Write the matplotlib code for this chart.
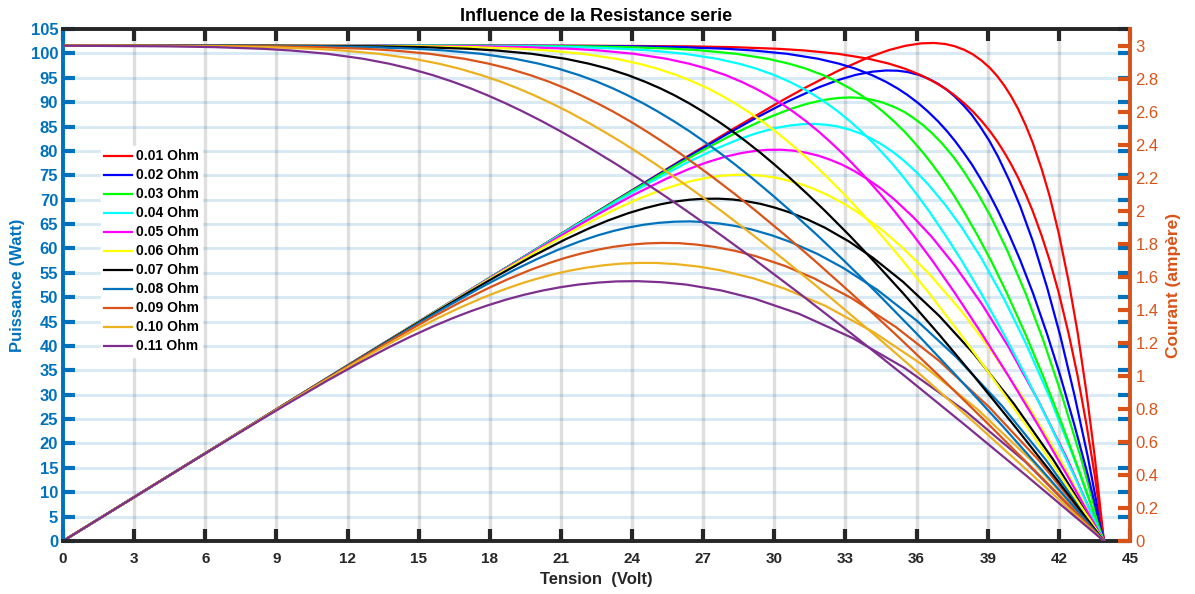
import numpy as np
import matplotlib
matplotlib.use('Agg')
import matplotlib.pyplot as plt
from matplotlib.ticker import FuncFormatter

plt.rcParams['font.family'] = ['Liberation Sans', 'DejaVu Sans']

# Courant (A) : niveaux communs a toutes les courbes I(V)
courant = [3.0, 2.999, 2.995, 2.99, 2.98, 2.97, 2.95, 2.92, 2.89, 2.86, 2.82, 2.78,
           2.74, 2.70, 2.65, 2.60, 2.54, 2.48, 2.42, 2.35, 2.28, 2.20, 2.10, 2.00,
           1.85, 1.70, 1.50, 1.25, 1.00, 0.70, 0.40, 0.00]

# Tension (V) lue pour chaque resistance serie, aux niveaux de courant ci-dessus
v_001 = [0, 21.96, 26.37, 28.27, 30.17, 31.28, 32.68, 33.97, 34.84, 35.50, 36.19, 36.74,
         37.20, 37.59, 38.01, 38.38, 38.76, 39.10, 39.40, 39.71, 39.99, 40.28, 40.60, 40.89,
         41.27, 41.61, 42.00, 42.42, 42.79, 43.17, 43.51, 43.90]
v_002 = [0, 19.77, 24.19, 26.09, 28.00, 29.11, 30.53, 31.84, 32.73, 33.42, 34.13, 34.71,
         35.20, 35.62, 36.08, 36.48, 36.91, 37.29, 37.63, 37.99, 38.33, 38.67, 39.07, 39.43,
         39.92, 40.37, 40.91, 41.51, 42.06, 42.66, 43.22, 43.90]
v_003 = [0, 17.58, 22.00, 23.91, 25.82, 26.95, 28.38, 29.71, 30.62, 31.33, 32.07, 32.68,
         33.20, 33.65, 34.14, 34.58, 35.05, 35.48, 35.86, 36.28, 36.66, 37.07, 37.54, 37.97,
         38.57, 39.13, 39.81, 40.60, 41.33, 42.15, 42.92, 43.90]
v_004 = [0, 15.40, 19.81, 21.72, 23.64, 24.78, 26.22, 27.57, 28.51, 29.24, 30.02, 30.65,
         31.20, 31.68, 32.21, 32.69, 33.20, 33.67, 34.10, 34.56, 35.00, 35.46, 36.00, 36.51,
         37.22, 37.89, 38.72, 39.69, 40.60, 41.64, 42.63, 43.90]
v_005 = [0, 13.21, 17.63, 19.54, 21.47, 22.61, 24.07, 25.44, 26.40, 27.15, 27.96, 28.62,
         29.20, 29.71, 30.28, 30.79, 31.35, 31.86, 32.33, 32.85, 33.33, 33.85, 34.47, 35.05,
         35.87, 36.65, 37.62, 38.77, 39.87, 41.13, 42.34, 43.90]
v_006 = [0, 11.02, 15.44, 17.36, 19.29, 20.44, 21.91, 23.31, 24.29, 25.06, 25.90, 26.59,
         27.20, 27.74, 28.34, 28.89, 29.49, 30.05, 30.56, 31.13, 31.67, 32.25, 32.94, 33.59,
         34.52, 35.40, 36.53, 37.86, 39.14, 40.62, 42.05, 43.90]
v_007 = [0, 8.83, 13.25, 15.18, 17.12, 18.27, 19.76, 21.18, 22.18, 22.98, 23.84, 24.56,
         25.20, 25.77, 26.41, 26.99, 27.64, 28.24, 28.80, 29.42, 30.00, 30.64, 31.40, 32.13,
         33.17, 34.16, 35.43, 36.95, 38.41, 40.11, 41.76, 43.90]
v_008 = [0, 6.64, 11.07, 12.99, 14.94, 16.11, 17.61, 19.05, 20.07, 20.89, 21.78, 22.54,
         23.20, 23.79, 24.47, 25.09, 25.78, 26.43, 27.03, 27.70, 28.34, 29.04, 29.87, 30.67,
         31.82, 32.92, 34.34, 36.04, 37.68, 39.60, 41.46, 43.90]
v_009 = [0, 4.45, 8.88, 10.81, 12.77, 13.94, 15.45, 16.92, 17.96, 18.80, 19.72, 20.51,
         21.20, 21.82, 22.54, 23.20, 23.93, 24.61, 25.26, 25.99, 26.67, 27.43, 28.34, 29.21,
         30.47, 31.68, 33.24, 35.12, 36.95, 39.08, 41.17, 43.90]
v_010 = [0, 2.26, 6.70, 8.63, 10.59, 11.77, 13.30, 14.78, 15.85, 16.71, 17.66, 18.48,
         19.20, 19.85, 20.60, 21.30, 22.07, 22.80, 23.50, 24.27, 25.01, 25.82, 26.80, 27.75,
         29.12, 30.44, 32.15, 34.21, 36.22, 38.57, 40.88, 43.90]
v_011 = [0, 0.07, 4.51, 6.45, 8.42, 9.60, 11.15, 12.65, 13.75, 14.63, 15.61, 16.45,
         17.20, 17.88, 18.67, 19.40, 20.22, 20.99, 21.73, 22.55, 23.35, 24.22, 25.27, 26.29,
         27.77, 29.20, 31.05, 33.30, 35.49, 38.06, 40.59, 43.90]

tensions = [v_001, v_002, v_003, v_004, v_005, v_006, v_007, v_008, v_009, v_010, v_011]
labels = ['0.01 Ohm', '0.02 Ohm', '0.03 Ohm', '0.04 Ohm', '0.05 Ohm', '0.06 Ohm',
          '0.07 Ohm', '0.08 Ohm', '0.09 Ohm', '0.10 Ohm', '0.11 Ohm']
couleurs = ['#FF0000', '#0000FF', '#00FF00', '#00FFFF', '#FF00FF', '#FFFF00',
            '#000000', '#0072BD', '#D95319', '#EDB120', '#7E2F8E']

BLEU = '#0072BD'
ORANGE = '#D95319'
GRIS = '#262626'

fig = plt.figure(figsize=(11.95, 5.94), dpi=100)
ax = fig.add_axes([63/1195, 53/594, 1067/1195, 512/594])
ax2 = ax.twinx()

I = np.array(courant)
handles = []
for v, lab, c in zip(tensions, labels, couleurs):
    v = np.array(v)
    # Puissance = Tension x Courant
    ax.plot(v, v * I, color=c, lw=1.6)
    h, = ax2.plot(v, I, color=c, lw=1.6, label=lab)
    handles.append(h)

ax.set_xlim(0, 45)
ax.set_ylim(0, 105)
ax2.set_ylim(0, 3.1)
ax.set_xticks(np.arange(0, 46, 3))
ax.set_yticks(np.arange(0, 106, 5))
ax2.set_yticks(np.arange(0, 3.01, 0.2))
ax2.yaxis.set_major_formatter(FuncFormatter(lambda y, p: '%g' % round(y, 1)))

ax.set_axisbelow(True)
ax.grid(axis='x', color='#808080', alpha=0.25, lw=2.4)
ax.grid(axis='y', color=BLEU, alpha=0.15, lw=2.2)

ax.tick_params(axis='x', direction='in', length=8.5, width=3, colors=GRIS,
               top=True, labelsize=11, pad=8)
ax.tick_params(axis='y', direction='in', length=8.5, width=3, colors=BLEU,
               right=True, labelsize=12, pad=3.5)
ax2.tick_params(axis='y', direction='in', length=8.5, width=3, colors=ORANGE,
                labelsize=12, pad=4)
for t in ax.get_xticklabels() + ax.get_yticklabels():
    t.set_fontweight('bold')

for s in ['top', 'bottom']:
    ax.spines[s].set_color(GRIS)
    ax.spines[s].set_linewidth(2.8)
    ax2.spines[s].set_visible(False)
ax.spines['left'].set_color(BLEU)
ax.spines['left'].set_linewidth(2.8)
ax.spines['right'].set_visible(False)
ax2.spines['left'].set_visible(False)
ax2.spines['right'].set_color(ORANGE)
ax2.spines['right'].set_linewidth(2.8)

ax.set_title('Influence de la Resistance serie', fontsize=13, fontweight='bold',
             color='black', pad=6)
ax.set_xlabel('Tension  (Volt)', fontsize=12, fontweight='bold', color=GRIS)
ax.xaxis.set_label_coords(0.5, -(572 - 541) / 512)
ax.set_ylabel('Puissance (Watt)', fontsize=12, fontweight='bold', color=BLEU)
ax.yaxis.set_label_coords(-(63 - 25) / 1067, 0.5)
ax2.set_ylabel('Courant (ampère)', fontsize=12.5, fontweight='bold', color=ORANGE)
ax2.yaxis.set_label_coords((1166 - 63) / 1067, 0.5)

leg = ax2.legend(handles=handles, loc='upper left',
                 bbox_to_anchor=((94 - 63) / 1067, (541 - 139) / 512),
                 prop={'weight': 'bold', 'size': 10}, handlelength=2.0,
                 handletextpad=0.25, labelspacing=0.36, borderpad=0.25,
                 frameon=True, fancybox=False, framealpha=1,
                 facecolor='white', edgecolor='white')
for txt in leg.get_texts():
    txt.set_color('black')

fig.savefig('out.png', dpi=100)
